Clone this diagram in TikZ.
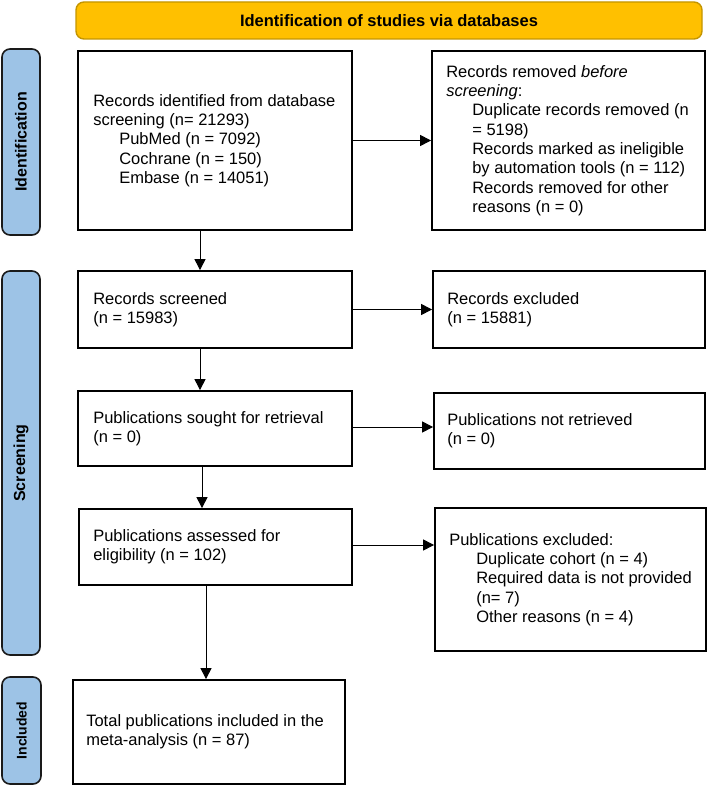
\documentclass[tikz,border=0pt]{standalone}
\usepackage{fontspec}
\setmainfont{Liberation Sans}
\usetikzlibrary{arrows.meta}
\definecolor{hdrfill}{HTML}{FFC000}
\definecolor{hdrline}{HTML}{C49500}
\definecolor{lblfill}{HTML}{9DC3E6}
\definecolor{lblline}{HTML}{1A1A1A}
\begin{document}
\begin{tikzpicture}[x=1pt,y=-1pt,
  box/.style={draw=black, line width=1.8pt, fill=white, inner sep=0pt},
  hdrbox/.style={draw=hdrline, line width=1.4pt, fill=hdrfill, rounded corners=8pt,
    inner sep=0pt, font=\fontsize{16.5}{19.3}\selectfont\bfseries},
  lblbox/.style={draw=lblline, line width=1.6pt, fill=lblfill, rounded corners=8pt,
    inner sep=0pt, rotate=90, font=\fontsize{16}{19}\selectfont\bfseries},
  txt/.style={anchor=west, align=left, inner sep=0pt, font=\fontsize{16.5}{19.3}\selectfont},
  arr/.style={line width=1pt, -{Triangle[length=11pt,width=11pt]}}
]
\useasboundingbox (0,0) rectangle (708,786);

% header
\node[hdrbox, minimum width=626pt, minimum height=37pt] (hdr) at (389,20.5)
  {Identification of studies via databases};

% side labels
\node[lblbox, minimum width=186pt, minimum height=38pt] (lI) at (21,142) {Identification};
\node[lblbox, minimum width=384pt, minimum height=38pt] (lS) at (21,463) {Screening};
\node[lblbox, minimum width=107pt, minimum height=39pt,
  font=\fontsize{14}{17}\selectfont\bfseries] (lN) at (21.5,730.5) {Included};

% boxes
\node[box, minimum width=274pt, minimum height=179pt] (b1) at (215,140.5) {};
\node[box, minimum width=273pt, minimum height=179pt] (b2) at (568.5,140.5) {};
\node[box, minimum width=274pt, minimum height=77pt] (b3) at (215,309.5) {};
\node[box, minimum width=272pt, minimum height=77pt] (b4) at (569,309.5) {};
\node[box, minimum width=274pt, minimum height=75pt] (b5) at (215,428.5) {};
\node[box, minimum width=271pt, minimum height=76pt] (b6) at (569.5,431) {};
\node[box, minimum width=273pt, minimum height=76pt] (b7) at (215.5,547) {};
\node[box, minimum width=271pt, minimum height=143pt] (b8) at (570.5,579.5) {};
\node[box, minimum width=272pt, minimum height=104pt] (b9) at (209,732) {};

% texts
\node[txt] (t1) at ([xshift=16pt]b1.west) {Records identified from database\\
  screening (n= 21293)\\
  \hspace*{26pt}PubMed (n = 7092)\\
  \hspace*{26pt}Cochrane (n = 150)\\
  \hspace*{26pt}Embase (n = 14051)};
\node[txt] (t2) at ([xshift=15pt]b2.west) {Records removed \textit{before}\\
  \textit{screening}:\\
  \hspace*{26pt}Duplicate records removed (n\\
  \hspace*{26pt}= 5198)\\
  \hspace*{26pt}Records marked as ineligible\\
  \hspace*{26pt}by automation tools (n = 112)\\
  \hspace*{26pt}Records removed for other\\
  \hspace*{26pt}reasons (n = 0)};
\node[txt] (t3) at ([xshift=16pt]b3.west) {Records screened\\(n = 15983)};
\node[txt] (t4) at ([xshift=15pt]b4.west) {Records excluded\\(n = 15881)};
\node[txt] (t5) at ([xshift=16pt]b5.west) {Publications sought for retrieval\\(n = 0)};
\node[txt] (t6) at ([xshift=14pt]b6.west) {Publications not retrieved\\(n = 0)};
\node[txt] (t7) at ([xshift=15pt]b7.west) {Publications assessed for\\eligibility (n = 102)};
\node[txt] (t8) at ([xshift=15pt]b8.west) {Publications excluded:\\
  \hspace*{27pt}Duplicate cohort (n = 4)\\
  \hspace*{27pt}Required data is not provided\\
  \hspace*{27pt}(n= 7)\\
  \hspace*{27pt}Other reasons (n = 4)};
\node[txt] (t9) at ([xshift=14pt]b9.west) {Total publications included in the\\meta-analysis (n = 87)};

% connector columns
\coordinate (cA) at (200,0);
\coordinate (cB) at (202,0);
\coordinate (cC) at (206,0);

% connectors
\draw[arr] (b1.east) -- (b1.east -| b2.west);
\draw[arr] (b3.east) -- (b3.east -| b4.west);
\draw[arr] ([yshift=1.5pt]b5.east) -- ([yshift=1.5pt]b5.east -| b6.west);
\draw[arr] ([yshift=2pt]b7.east) -- ([yshift=2pt]b7.east -| b8.west);
\draw[arr] (b1.south -| cA) -- (b3.north -| cA);
\draw[arr] (b3.south -| cA) -- (b5.north -| cA);
\draw[arr] (b5.south -| cB) -- (b7.north -| cB);
\draw[arr] (b7.south -| cC) -- (b9.north -| cC);
\end{tikzpicture}
\end{document}
